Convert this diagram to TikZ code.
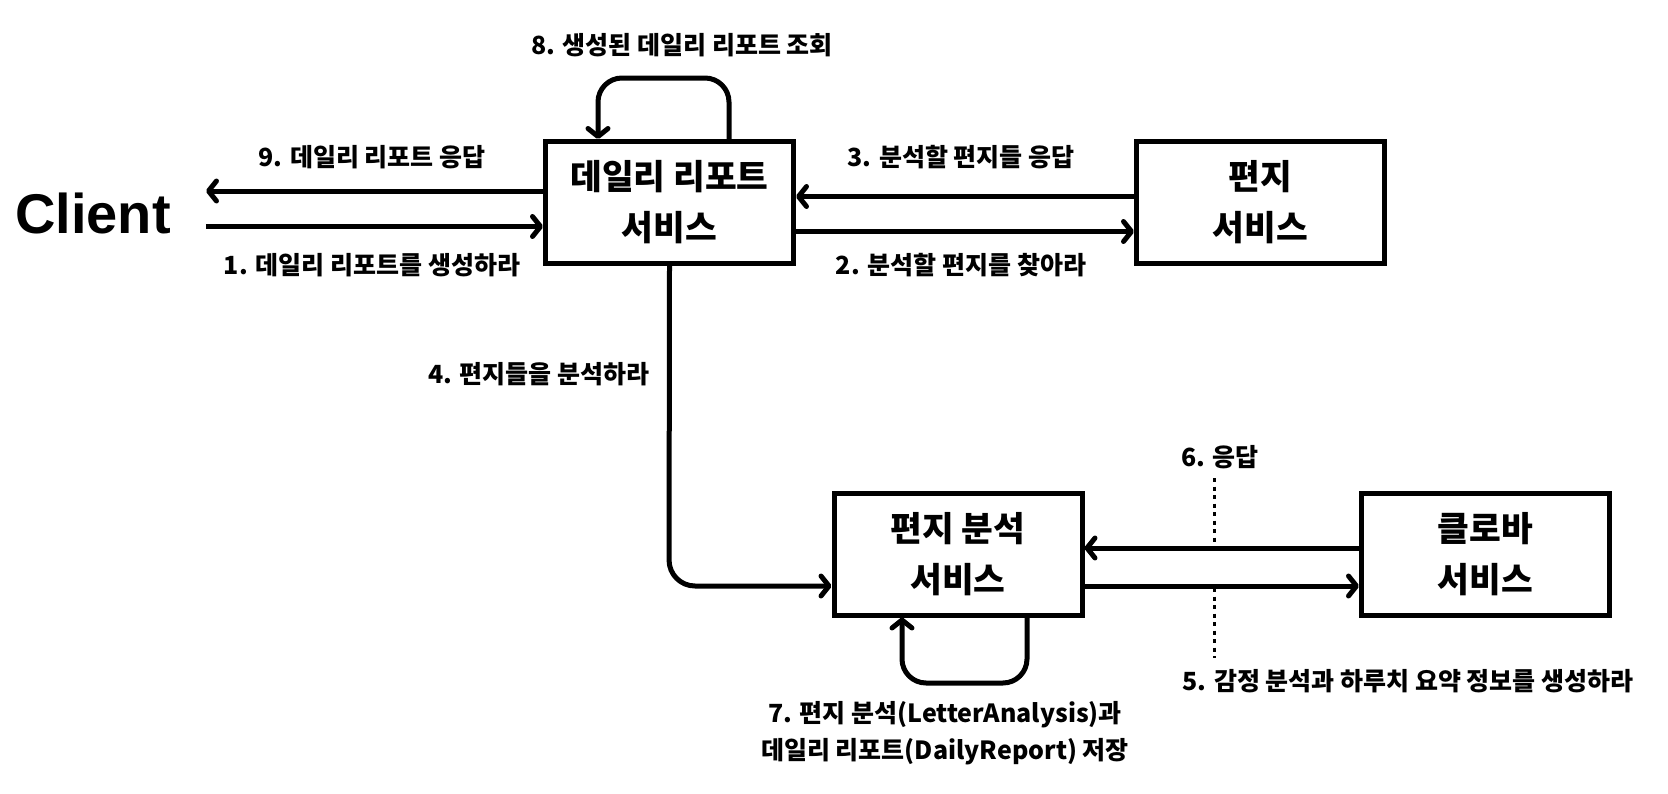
\documentclass[tikz,border=0pt]{standalone}
\usepackage{fontspec}
\setmainfont{Noto Sans CJK KR}
\newfontfamily\clientfont{Liberation Sans}
\usetikzlibrary{arrows.meta}
\tikzset{
  svc/.style={draw, line width=5pt, minimum width=248pt, minimum height=122pt, align=center, inner sep=0pt,
    font=\bfseries\fontsize{34.5}{51}\selectfont},
  lbl/.style={font=\bfseries\fontsize{25}{37}\selectfont, align=center, inner sep=0pt},
  arr/.style={line width=5pt, -{Straight Barb[length=8pt,width=20pt,line cap=round,line join=round]}},
  dots/.style={line width=3pt, dash pattern=on 4pt off 4.5pt}
}
\begin{document}
\begin{tikzpicture}[x=1pt,y=-1pt]
\fill[white] (0,0) rectangle (1668,793);
\useasboundingbox (0,0) rectangle (1668,793);
\node[font=\clientfont\bfseries\fontsize{56}{60}\selectfont, inner sep=0pt, inner xsep=35pt] (client) at (93,213) {Client};
\node[svc] (D) at (669.5,202.5) {데일리 리포트\\서비스};
\node[svc] (L) at (1260.5,202.5) {편지\\서비스};
\node[svc] (A) at (958,554) {편지 분석\\서비스};
\node[svc] (C) at (1485.5,554) {클로바\\서비스};

\draw[arr] ([yshift=11.5pt]D.west) -- (client.east |- {0,191});
\draw[arr] (client.east |- {0,226.5}) -- ([yshift=-24pt]D.west);
\draw[arr] ([yshift=6pt]L.west) -- ([yshift=6pt]D.east);
\draw[arr] ([yshift=-29pt]D.east) -- ([yshift=-29pt]L.west);
\draw[arr, rounded corners=26pt] (D.south) -- (669,586) -- (A.west |- {0,586});
\draw[arr] ([yshift=6pt]C.west) -- ([yshift=6pt]A.east);
\draw[arr] ([yshift=-32pt]A.east) -- ([yshift=-32pt]C.west);
\draw[arr, rounded corners=24pt] (D.north -| {729,0}) -- (729,78) -- (598,78) -- (D.north -| {598,0});
\draw[arr, rounded corners=24pt] (A.south -| {1027,0}) -- (1027,683) -- (902,683) -- (A.south -| {902,0});

\coordinate (dt1) at (1214,478);
\coordinate (dt2) at (1214,548);
\coordinate (dt3) at (1214,588);
\coordinate (dt4) at (1214,658);
\draw[dots] (dt1) -- (dt2);
\draw[dots] (dt3) -- (dt4);

\node[lbl] (l8) at (682,45) {8. 생성된 데일리 리포트 조회};
\node[lbl] (l9) at (372,157) {9. 데일리 리포트 응답};
\node[lbl] (l1) at (372,265) {1. 데일리 리포트를 생성하라};
\node[lbl] (l3) at (961,157) {3. 분석할 편지들 응답};
\node[lbl] (l2) at (961,265) {2. 분석할 편지를 찾아라};
\node[lbl] (l4) at (539,374) {4. 편지들을 분석하라};
\node[lbl] (l6) at (1220,457) {6. 응답};
\node[lbl] (l5) at (1408,681) {5. 감정 분석과 하루치 요약 정보를 생성하라};
\node[lbl] (l7) at (945,733) {7. 편지 분석(LetterAnalysis)과\\데일리 리포트(DailyReport) 저장};
\end{tikzpicture}
\end{document}
